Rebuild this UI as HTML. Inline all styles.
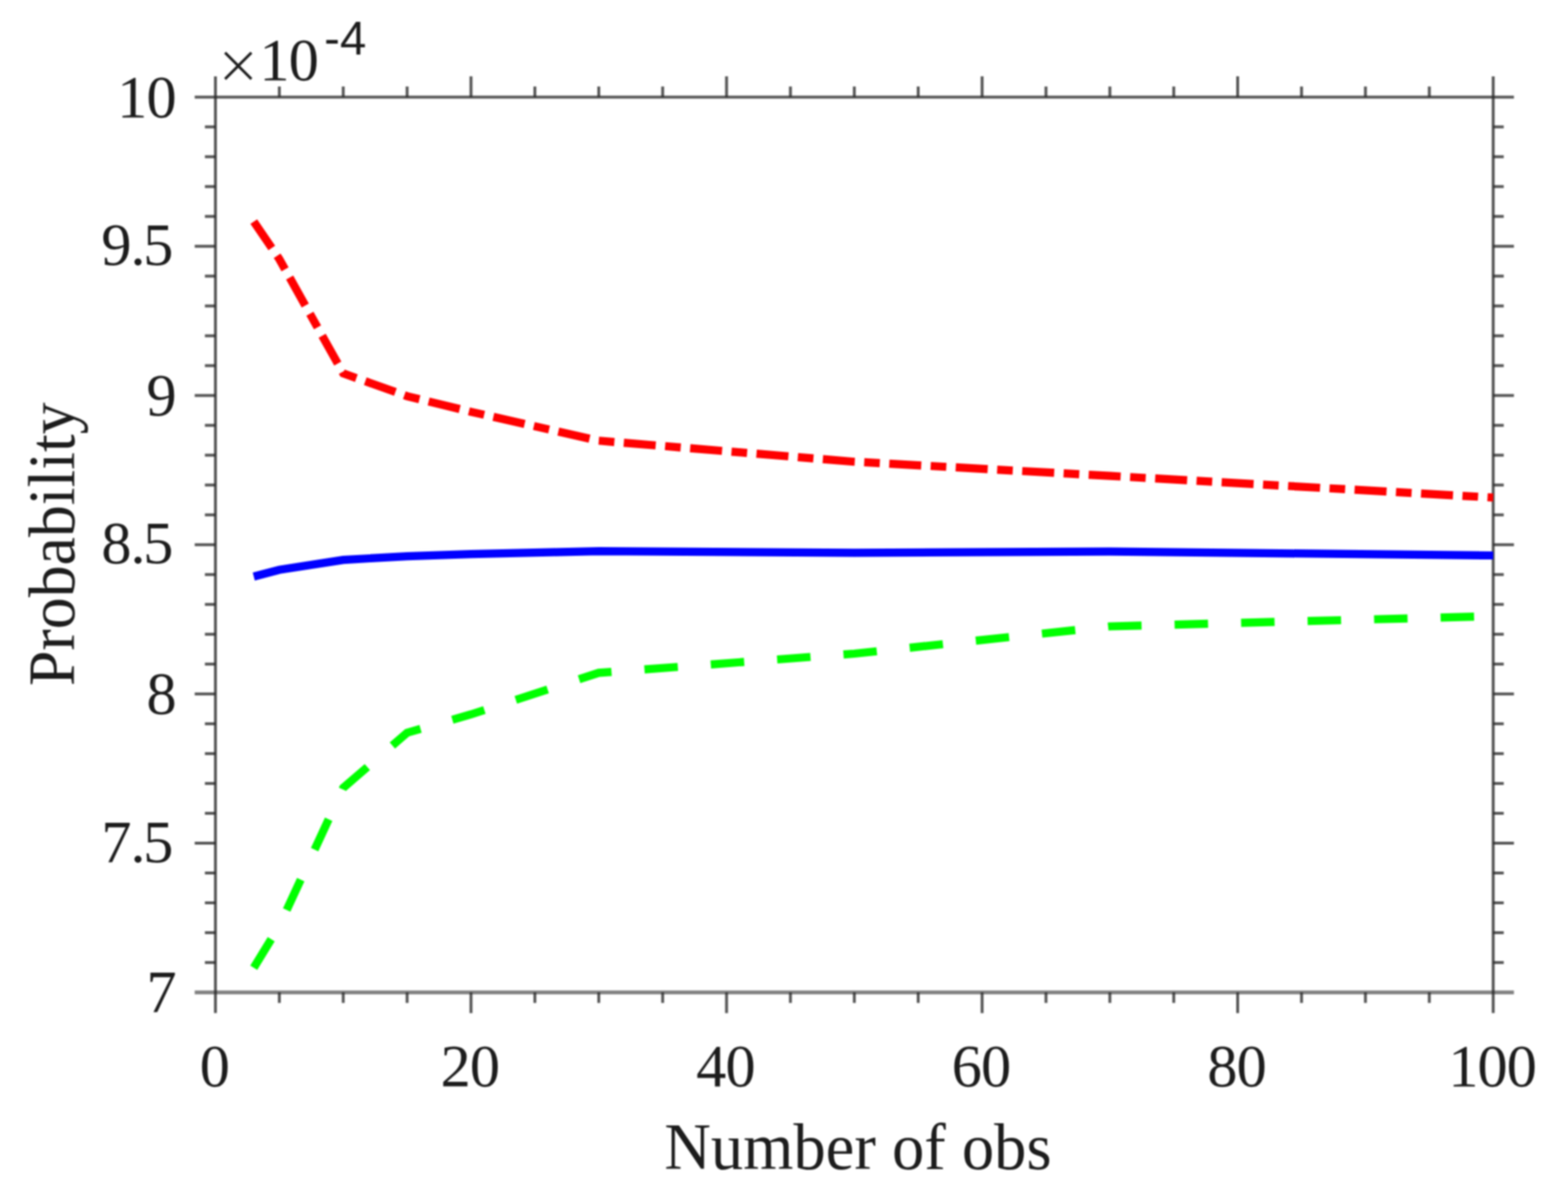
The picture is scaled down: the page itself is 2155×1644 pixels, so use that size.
<!DOCTYPE html>
<html lang="en"><head><meta charset="utf-8"><title>Probability vs Number of obs</title>
<style>
html,body{margin:0;padding:0;background:#fff;}
body{width:2155px;height:1644px;overflow:hidden;}
svg{display:block;filter:blur(0.8px);}
text{font-family:"Liberation Serif","DejaVu Serif",serif;fill:#1c1c1c;}
.tick{font-size:83px;letter-spacing:-1.3px;}
.lab{font-size:90px;}
.times{font-family:"DejaVu Sans","Liberation Sans",sans-serif;font-weight:200;font-size:75px;}
.exp{font-family:"Liberation Sans","DejaVu Sans",sans-serif;font-size:65px;}
.ax line{stroke:#262626;stroke-width:4;stroke-opacity:.78;}
.curve{fill:none;stroke-width:11.2;stroke-linejoin:miter;stroke-linecap:butt;}
</style></head><body>
<svg width="2155" height="1644" viewBox="0 0 2155 1644" role="img" aria-label="Probability versus number of observations">
<rect width="2155" height="1644" fill="#fff"/>
<defs><clipPath id="box"><rect x="296.10" y="133.40" width="1757.30" height="1230.70"/></clipPath></defs>
<g class="ax">
<line x1="267.60" y1="133.40" x2="2080.70" y2="133.40"/>
<line x1="267.60" y1="1364.10" x2="2080.70" y2="1364.10" style="stroke-width:5.4;stroke-opacity:.58"/>
<line x1="296.10" y1="104.90" x2="296.10" y2="1392.60"/>
<line x1="2052.20" y1="104.90" x2="2052.20" y2="1392.60"/>
<line x1="383.91" y1="118.90" x2="383.91" y2="133.40"/>
<line x1="383.91" y1="1364.10" x2="383.91" y2="1378.60"/>
<line x1="471.71" y1="118.90" x2="471.71" y2="133.40"/>
<line x1="471.71" y1="1364.10" x2="471.71" y2="1378.60"/>
<line x1="559.52" y1="118.90" x2="559.52" y2="133.40"/>
<line x1="559.52" y1="1364.10" x2="559.52" y2="1378.60"/>
<line x1="647.32" y1="104.90" x2="647.32" y2="133.40"/>
<line x1="647.32" y1="1364.10" x2="647.32" y2="1392.60"/>
<line x1="735.12" y1="118.90" x2="735.12" y2="133.40"/>
<line x1="735.12" y1="1364.10" x2="735.12" y2="1378.60"/>
<line x1="822.93" y1="118.90" x2="822.93" y2="133.40"/>
<line x1="822.93" y1="1364.10" x2="822.93" y2="1378.60"/>
<line x1="910.74" y1="118.90" x2="910.74" y2="133.40"/>
<line x1="910.74" y1="1364.10" x2="910.74" y2="1378.60"/>
<line x1="998.54" y1="104.90" x2="998.54" y2="133.40"/>
<line x1="998.54" y1="1364.10" x2="998.54" y2="1392.60"/>
<line x1="1086.35" y1="118.90" x2="1086.35" y2="133.40"/>
<line x1="1086.35" y1="1364.10" x2="1086.35" y2="1378.60"/>
<line x1="1174.15" y1="118.90" x2="1174.15" y2="133.40"/>
<line x1="1174.15" y1="1364.10" x2="1174.15" y2="1378.60"/>
<line x1="1261.95" y1="118.90" x2="1261.95" y2="133.40"/>
<line x1="1261.95" y1="1364.10" x2="1261.95" y2="1378.60"/>
<line x1="1349.76" y1="104.90" x2="1349.76" y2="133.40"/>
<line x1="1349.76" y1="1364.10" x2="1349.76" y2="1392.60"/>
<line x1="1437.57" y1="118.90" x2="1437.57" y2="133.40"/>
<line x1="1437.57" y1="1364.10" x2="1437.57" y2="1378.60"/>
<line x1="1525.37" y1="118.90" x2="1525.37" y2="133.40"/>
<line x1="1525.37" y1="1364.10" x2="1525.37" y2="1378.60"/>
<line x1="1613.18" y1="118.90" x2="1613.18" y2="133.40"/>
<line x1="1613.18" y1="1364.10" x2="1613.18" y2="1378.60"/>
<line x1="1700.98" y1="104.90" x2="1700.98" y2="133.40"/>
<line x1="1700.98" y1="1364.10" x2="1700.98" y2="1392.60"/>
<line x1="1788.78" y1="118.90" x2="1788.78" y2="133.40"/>
<line x1="1788.78" y1="1364.10" x2="1788.78" y2="1378.60"/>
<line x1="1876.59" y1="118.90" x2="1876.59" y2="133.40"/>
<line x1="1876.59" y1="1364.10" x2="1876.59" y2="1378.60"/>
<line x1="1964.39" y1="118.90" x2="1964.39" y2="133.40"/>
<line x1="1964.39" y1="1364.10" x2="1964.39" y2="1378.60"/>
<line x1="281.60" y1="1323.08" x2="296.10" y2="1323.08"/>
<line x1="2052.20" y1="1323.08" x2="2066.70" y2="1323.08"/>
<line x1="281.60" y1="1282.05" x2="296.10" y2="1282.05"/>
<line x1="2052.20" y1="1282.05" x2="2066.70" y2="1282.05"/>
<line x1="281.60" y1="1241.03" x2="296.10" y2="1241.03"/>
<line x1="2052.20" y1="1241.03" x2="2066.70" y2="1241.03"/>
<line x1="281.60" y1="1200.01" x2="296.10" y2="1200.01"/>
<line x1="2052.20" y1="1200.01" x2="2066.70" y2="1200.01"/>
<line x1="267.60" y1="1158.98" x2="296.10" y2="1158.98"/>
<line x1="2052.20" y1="1158.98" x2="2080.70" y2="1158.98"/>
<line x1="281.60" y1="1117.96" x2="296.10" y2="1117.96"/>
<line x1="2052.20" y1="1117.96" x2="2066.70" y2="1117.96"/>
<line x1="281.60" y1="1076.94" x2="296.10" y2="1076.94"/>
<line x1="2052.20" y1="1076.94" x2="2066.70" y2="1076.94"/>
<line x1="281.60" y1="1035.91" x2="296.10" y2="1035.91"/>
<line x1="2052.20" y1="1035.91" x2="2066.70" y2="1035.91"/>
<line x1="281.60" y1="994.89" x2="296.10" y2="994.89"/>
<line x1="2052.20" y1="994.89" x2="2066.70" y2="994.89"/>
<line x1="267.60" y1="953.87" x2="296.10" y2="953.87"/>
<line x1="2052.20" y1="953.87" x2="2080.70" y2="953.87"/>
<line x1="281.60" y1="912.84" x2="296.10" y2="912.84"/>
<line x1="2052.20" y1="912.84" x2="2066.70" y2="912.84"/>
<line x1="281.60" y1="871.82" x2="296.10" y2="871.82"/>
<line x1="2052.20" y1="871.82" x2="2066.70" y2="871.82"/>
<line x1="281.60" y1="830.80" x2="296.10" y2="830.80"/>
<line x1="2052.20" y1="830.80" x2="2066.70" y2="830.80"/>
<line x1="281.60" y1="789.77" x2="296.10" y2="789.77"/>
<line x1="2052.20" y1="789.77" x2="2066.70" y2="789.77"/>
<line x1="267.60" y1="748.75" x2="296.10" y2="748.75"/>
<line x1="2052.20" y1="748.75" x2="2080.70" y2="748.75"/>
<line x1="281.60" y1="707.73" x2="296.10" y2="707.73"/>
<line x1="2052.20" y1="707.73" x2="2066.70" y2="707.73"/>
<line x1="281.60" y1="666.70" x2="296.10" y2="666.70"/>
<line x1="2052.20" y1="666.70" x2="2066.70" y2="666.70"/>
<line x1="281.60" y1="625.68" x2="296.10" y2="625.68"/>
<line x1="2052.20" y1="625.68" x2="2066.70" y2="625.68"/>
<line x1="281.60" y1="584.66" x2="296.10" y2="584.66"/>
<line x1="2052.20" y1="584.66" x2="2066.70" y2="584.66"/>
<line x1="267.60" y1="543.63" x2="296.10" y2="543.63"/>
<line x1="2052.20" y1="543.63" x2="2080.70" y2="543.63"/>
<line x1="281.60" y1="502.61" x2="296.10" y2="502.61"/>
<line x1="2052.20" y1="502.61" x2="2066.70" y2="502.61"/>
<line x1="281.60" y1="461.59" x2="296.10" y2="461.59"/>
<line x1="2052.20" y1="461.59" x2="2066.70" y2="461.59"/>
<line x1="281.60" y1="420.56" x2="296.10" y2="420.56"/>
<line x1="2052.20" y1="420.56" x2="2066.70" y2="420.56"/>
<line x1="281.60" y1="379.54" x2="296.10" y2="379.54"/>
<line x1="2052.20" y1="379.54" x2="2066.70" y2="379.54"/>
<line x1="267.60" y1="338.52" x2="296.10" y2="338.52"/>
<line x1="2052.20" y1="338.52" x2="2080.70" y2="338.52"/>
<line x1="281.60" y1="297.49" x2="296.10" y2="297.49"/>
<line x1="2052.20" y1="297.49" x2="2066.70" y2="297.49"/>
<line x1="281.60" y1="256.47" x2="296.10" y2="256.47"/>
<line x1="2052.20" y1="256.47" x2="2066.70" y2="256.47"/>
<line x1="281.60" y1="215.45" x2="296.10" y2="215.45"/>
<line x1="2052.20" y1="215.45" x2="2066.70" y2="215.45"/>
<line x1="281.60" y1="174.42" x2="296.10" y2="174.42"/>
<line x1="2052.20" y1="174.42" x2="2066.70" y2="174.42"/>
</g>
<g clip-path="url(#box)">
<polyline class="curve" stroke="#00f" points="348.78,792.48 383.91,783.33 471.71,769.67 559.52,764.54 647.32,761.55 822.93,757.65 1174.15,759.83 1525.37,758.19 2052.20,763.52"/>
<polyline class="curve" stroke="#f00" stroke-dasharray="44 13 21.5 13" points="348.78,304.59 383.91,356.20 471.71,513.19 559.52,544.58 647.32,566.07 822.93,605.78 1174.15,634.71 1525.37,654.19 2052.20,683.93"/>
<polyline class="curve" stroke="#0f0" stroke-dasharray="46 45.43" points="348.78,1330.26 383.91,1272.78 471.71,1083.01 559.52,1007.20 647.32,981.97 822.93,924.90 1174.15,898.49 1525.37,860.99 2052.20,846.88"/>
</g>
<text class="tick" x="294.60" y="1493" text-anchor="middle">0</text>
<text class="tick" x="645.82" y="1493" text-anchor="middle">20</text>
<text class="tick" x="997.04" y="1493" text-anchor="middle">40</text>
<text class="tick" x="1348.26" y="1493" text-anchor="middle">60</text>
<text class="tick" x="1699.48" y="1493" text-anchor="middle">80</text>
<text class="tick" x="2050.70" y="1493" text-anchor="middle">100</text>
<text class="tick" x="241.4" y="1391.40" text-anchor="end">7</text>
<text class="tick" x="237" y="1184.58" text-anchor="end">7.<tspan dx="-2">5</tspan></text>
<text class="tick" x="241.4" y="981.17" text-anchor="end">8</text>
<text class="tick" x="237" y="774.35" text-anchor="end">8.<tspan dx="-2">5</tspan></text>
<text class="tick" x="241.4" y="570.93" text-anchor="end">9</text>
<text class="tick" x="237" y="364.12" text-anchor="end">9.<tspan dx="-2">5</tspan></text>
<text class="tick" x="241.4" y="160.70" text-anchor="end">10</text>
<text class="times" x="327.3" y="113.5" text-anchor="middle">×</text>
<text class="tick" x="356.5" y="110.2">10</text>
<text class="exp" x="445.5" y="74.9">-4</text>
<text class="lab" x="913" y="1606.6" textLength="532.2" lengthAdjust="spacingAndGlyphs">Number of obs</text>
<text class="lab" transform="translate(101.6 943) rotate(-90)" textLength="390" lengthAdjust="spacingAndGlyphs">Probability</text>
</svg>
</body></html>
